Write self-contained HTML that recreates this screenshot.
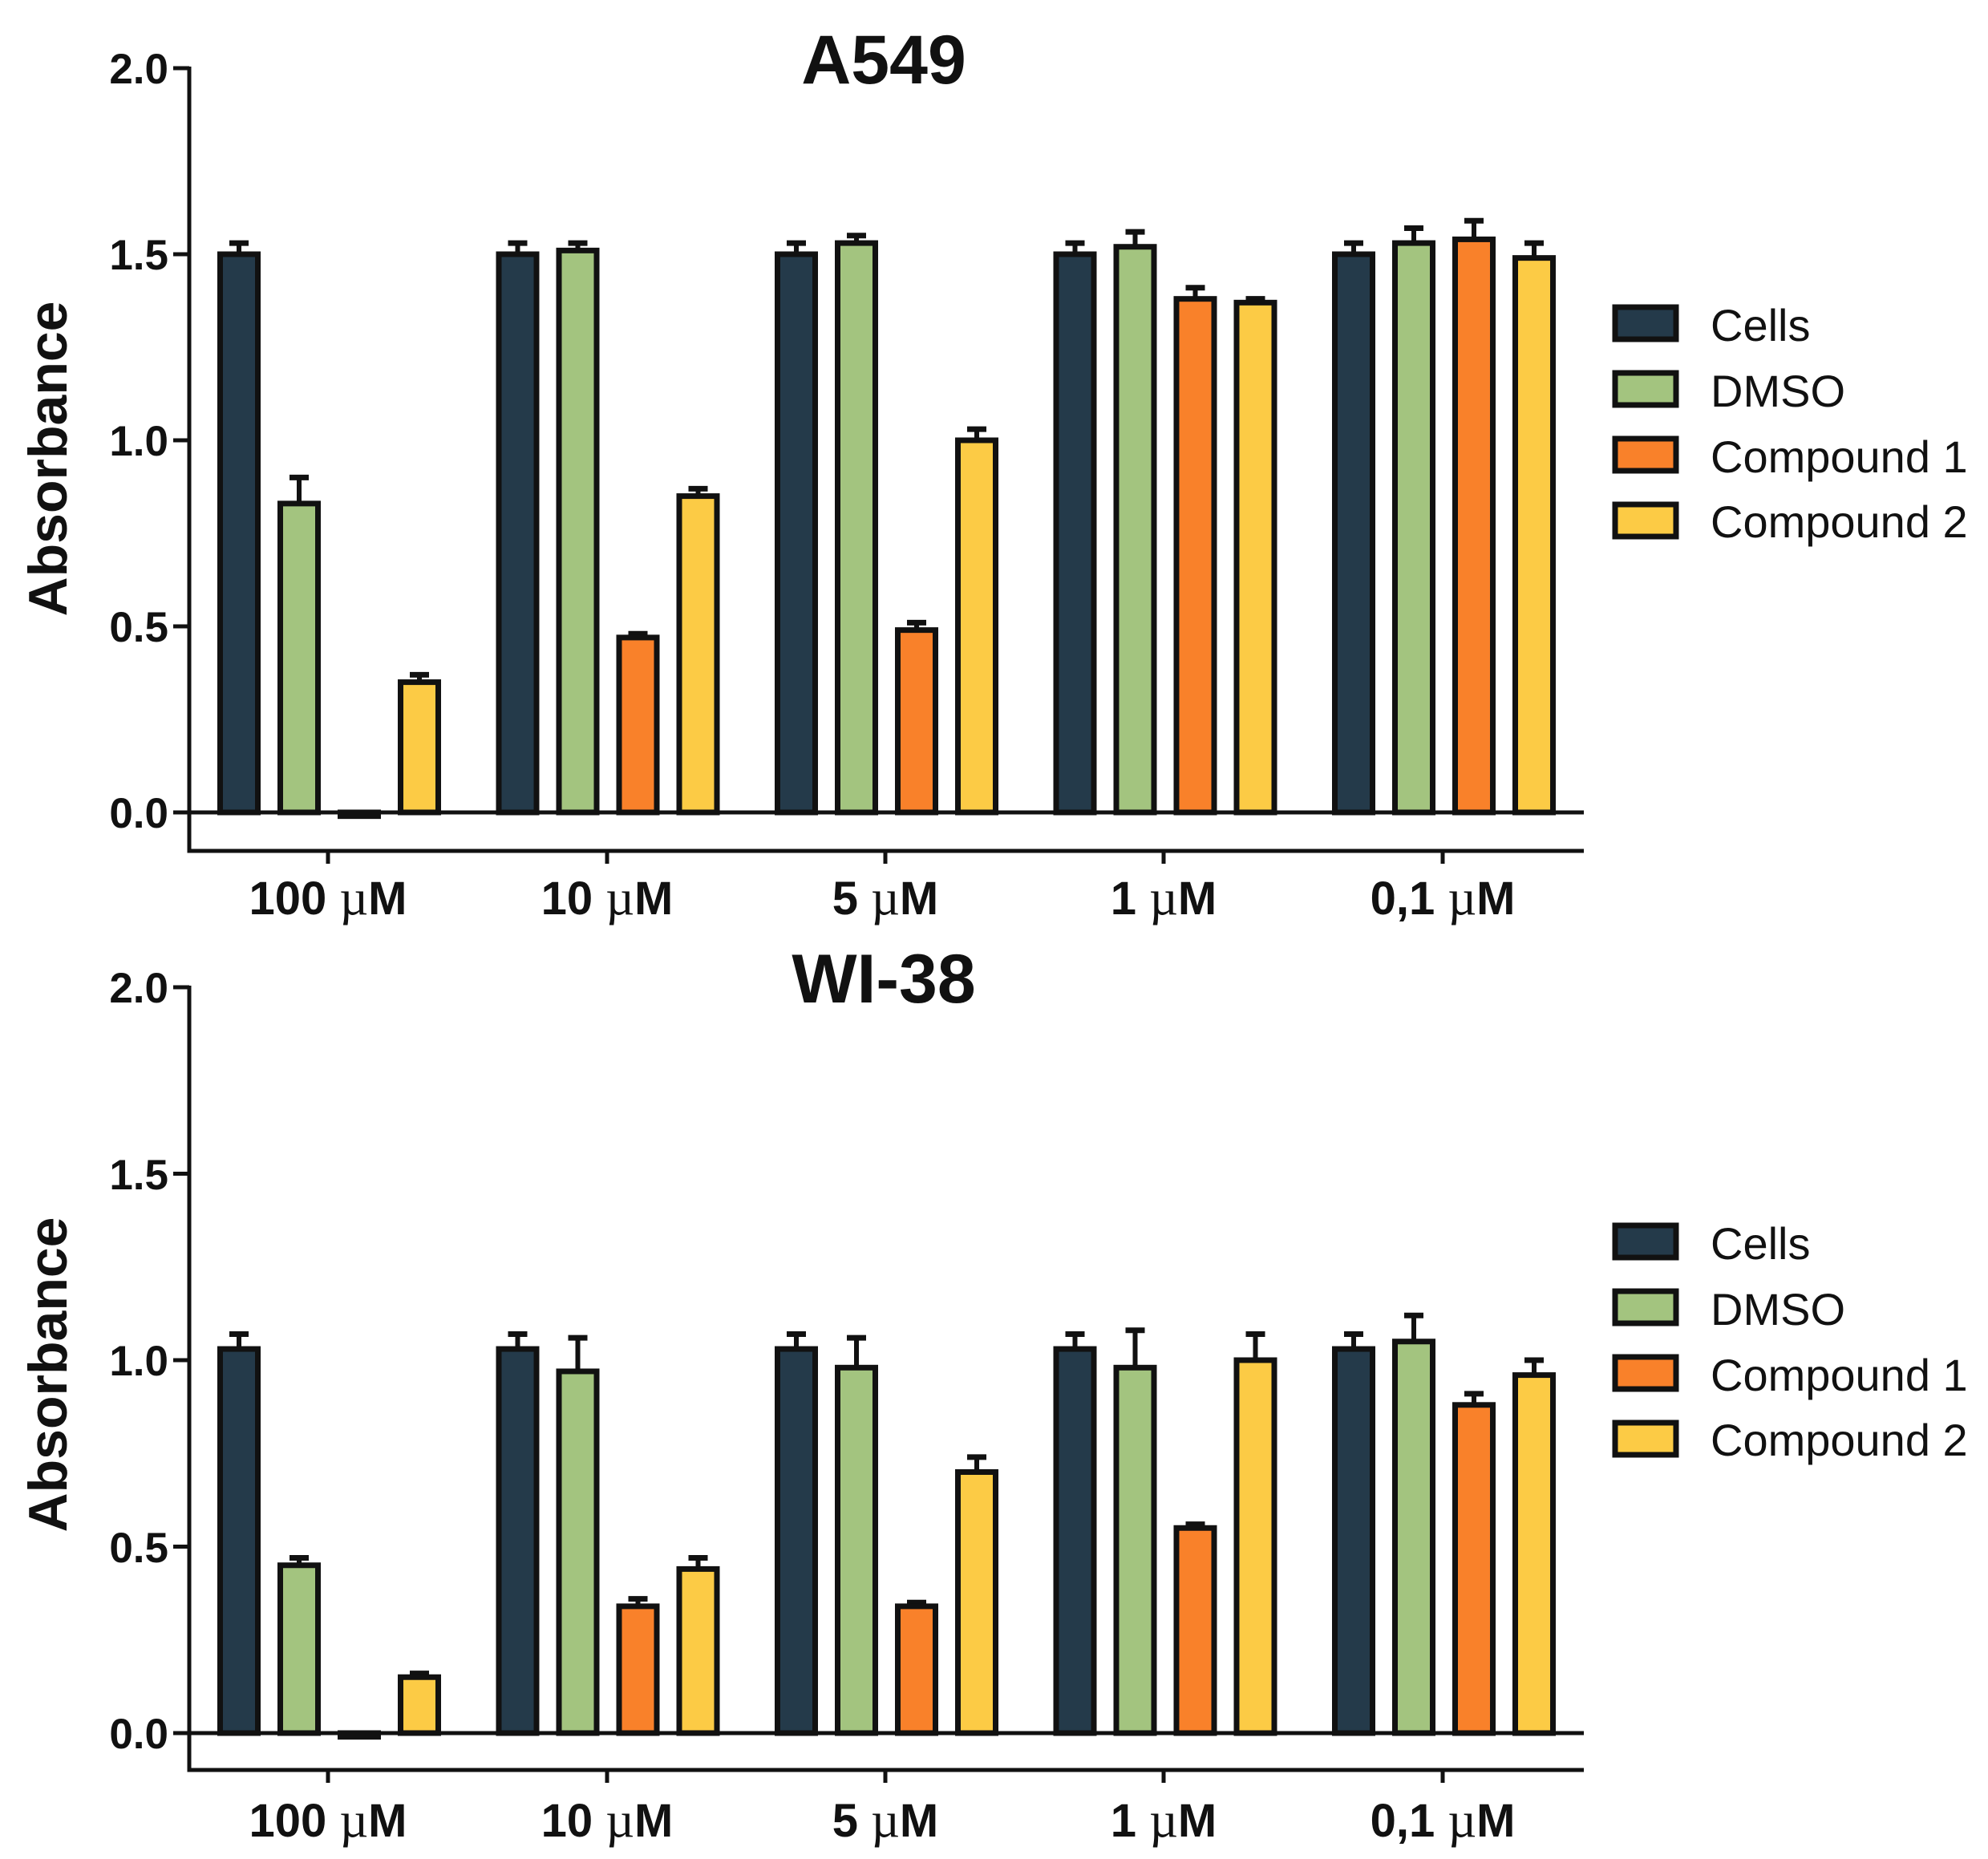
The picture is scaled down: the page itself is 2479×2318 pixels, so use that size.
<!DOCTYPE html>
<html><head><meta charset="utf-8"><style>
html,body{margin:0;padding:0;background:#fff}
svg{display:block}
.t{font-family:"Liberation Sans",sans-serif;font-weight:bold;fill:#111}
.tk{font-family:"Liberation Sans",sans-serif;font-weight:bold;font-size:53px;fill:#111}
.xl{font-family:"Liberation Sans",sans-serif;font-weight:bold;font-size:58px;fill:#111}
.mu{font-family:"Liberation Serif",serif;font-weight:normal;font-size:62px}
.lg{font-family:"Liberation Sans",sans-serif;font-size:56px;fill:#111}
</style></head><body>
<svg id="s" width="2479" height="2318" viewBox="0 0 2479 2318" xmlns="http://www.w3.org/2000/svg">
<g id="bars"></g>
<text class="t" x="1102" y="104" font-size="86" text-anchor="middle">A549</text>
<text class="t" x="1102" y="1250" font-size="86" text-anchor="middle">WI-38</text>
<text class="t" font-size="68" text-anchor="middle" transform="translate(83,572) rotate(-90)">Absorbance</text>
<text class="t" font-size="68" text-anchor="middle" transform="translate(83,1714) rotate(-90)">Absorbance</text>
<g class="tk" text-anchor="end">
<text x="210" y="104">2.0</text><text x="210" y="336">1.5</text><text x="210" y="568">1.0</text><text x="210" y="800">0.5</text><text x="210" y="1032">0.0</text>
<text x="210" y="1250">2.0</text><text x="210" y="1483">1.5</text><text x="210" y="1715">1.0</text><text x="210" y="1948">0.5</text><text x="210" y="2180">0.0</text>
</g>
<g class="xl" text-anchor="middle">
<text x="409" y="1140">100 <tspan class="mu">µ</tspan>M</text>
<text x="757" y="1140">10 <tspan class="mu">µ</tspan>M</text>
<text x="1104" y="1140">5 <tspan class="mu">µ</tspan>M</text>
<text x="1451" y="1140">1 <tspan class="mu">µ</tspan>M</text>
<text x="1799" y="1140">0,1 <tspan class="mu">µ</tspan>M</text>
<text x="409" y="2290">100 <tspan class="mu">µ</tspan>M</text>
<text x="757" y="2290">10 <tspan class="mu">µ</tspan>M</text>
<text x="1104" y="2290">5 <tspan class="mu">µ</tspan>M</text>
<text x="1451" y="2290">1 <tspan class="mu">µ</tspan>M</text>
<text x="1799" y="2290">0,1 <tspan class="mu">µ</tspan>M</text>
</g>
<g class="lg">
<text x="2133" y="425">Cells</text><text x="2133" y="507">DMSO</text><text x="2133" y="589">Compound 1</text><text x="2133" y="670">Compound 2</text>
<text x="2133" y="1570">Cells</text><text x="2133" y="1652">DMSO</text><text x="2133" y="1734">Compound 1</text><text x="2133" y="1815">Compound 2</text>
</g>
</svg>
<script>
var C=["#243a4a","#a3c47f","#f9812a","#fccb45"];
var g=document.getElementById("bars"),h="";
function L(x1,y1,x2,y2,w){h+='<line x1="'+x1+'" y1="'+y1+'" x2="'+x2+'" y2="'+y2+'" stroke="#111" stroke-width="'+(w||5)+'"/>';}
var charts=[
 {top:85,zero:1013,axis:1061,leg:405,
  v:[[1.5,.03,.83,.07,-.01,0,.35,.02],[1.5,.03,1.51,.02,.47,.01,.85,.02],[1.5,.03,1.53,.02,.49,.02,1.0,.03],[1.5,.03,1.52,.04,1.38,.03,1.37,.01],[1.5,.03,1.53,.04,1.54,.05,1.49,.04]]},
 {top:1231,zero:2161,axis:2207,leg:1550,
  v:[[1.03,.04,.45,.02,-.01,0,.15,.01],[1.03,.04,.97,.09,.34,.02,.44,.03],[1.03,.04,.98,.08,.34,.01,.70,.04],[1.03,.04,.98,.10,.55,.01,1.0,.07],[1.03,.04,1.05,.07,.88,.03,.96,.04]]}
];
charts.forEach(function(c){
 var s=(c.zero-c.top)/2;
 c.v.forEach(function(gr,gi){
  for(var i=0;i<4;i++){
   var val=gr[2*i],e=gr[2*i+1],x=271+347.5*gi+75*i,w=54;
   var yv=c.zero-val*s;
   var y=Math.min(yv,c.zero),hh=Math.max(Math.abs(c.zero-yv),3);
   if(e>0){var ye=yv-e*s;L(x+w/2,yv,x+w/2,ye,6);L(x+w/2-12,ye,x+w/2+12,ye,7);}
   h+='<rect x="'+(x+3.5)+'" y="'+y+'" width="'+(w-7)+'" height="'+hh+'" fill="'+C[i]+'" stroke="#111" stroke-width="7"/>';
  }
 });
 L(236,c.top-2,236,c.axis+2.5);
 L(236,c.zero,1975,c.zero);
 L(233.5,c.axis,1975,c.axis);
 for(var k=0;k<5;k++){var y=c.top+k*(c.zero-c.top)/4;L(216,y,236,y);}
 [409,757,1104,1451,1799].forEach(function(x){L(x,c.axis,x,c.axis+16);});
 for(var i=0;i<4;i++){var y=c.leg+i*82-22;h+='<rect x="2014" y="'+y+'" width="76" height="40" fill="'+C[i]+'" stroke="#111" stroke-width="7"/>';}
});
g.innerHTML=h;
</script>
</body></html>
